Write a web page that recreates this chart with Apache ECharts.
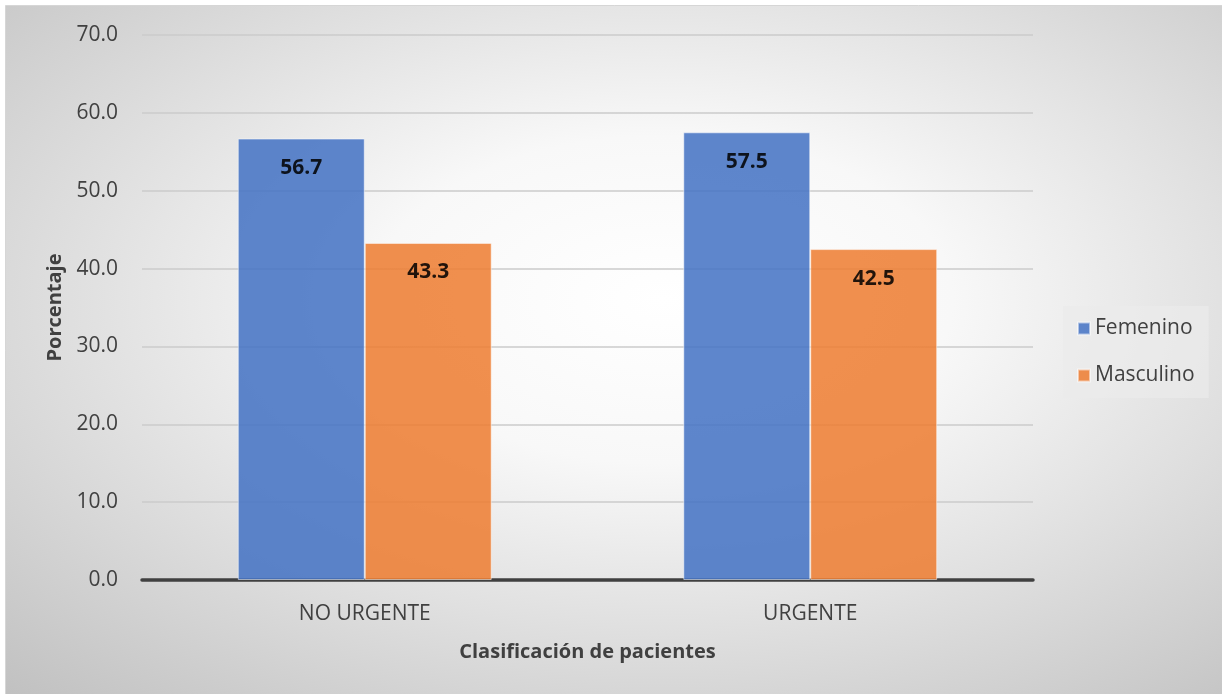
<!DOCTYPE html>
<html>
<head>
<meta charset="utf-8">
<script src="https://cdn.jsdelivr.net/npm/echarts@6/dist/echarts.min.js"></script>
<style>
  html, body { margin: 0; padding: 0; background: #ffffff; }
  #chart { width: 1222px; height: 694px; }
</style>
</head>
<body>
<div id="chart"></div>
<script>
// Patient classification by sex (percentages)
const categories = ['NO URGENTE', 'URGENTE'];
const femenino = [56.7, 57.5];
const masculino = [43.3, 42.5];
const yTicks = { min: 0, max: 70, interval: 10 };

const FONT = '"Open Sans", Lato, sans-serif';
const BG_W = 1240, BG_H = 700;

const chart = echarts.init(document.getElementById('chart'), null, { renderer: 'canvas' });

chart.setOption({
  animation: false,
  graphic: [
    {
      // elliptical light-to-grey backdrop: a square stretched horizontally
      type: 'rect',
      z: -10,
      silent: true,
      x: 5.5, y: 5.5,
      scaleX: BG_W / BG_H,
      shape: { x: 0, y: 0, width: BG_H, height: BG_H },
      style: {
        fill: {
          type: 'radial', x: 0.53, y: 0.42, r: 0.78,
          colorStops: [
            { offset: 0, color: '#ffffff' },
            { offset: 0.3, color: '#f8f8f8' },
            { offset: 1, color: '#c0c0c0' }
          ]
        }
      }
    },
    {
      type: 'rect',
      z: -9,
      silent: true,
      shape: { x: 5.5, y: 5.5, width: BG_W, height: BG_H },
      style: { fill: 'none', stroke: '#d6d6d6', lineWidth: 1 }
    }
  ],
  grid: { left: 142, right: 189, top: 35, bottom: 114, containLabel: false },
  legend: {
    orient: 'vertical',
    left: 1063,
    top: 306,
    itemWidth: 12,
    itemHeight: 12,
    itemGap: 26,
    icon: 'rect',
    padding: [12, 14, 12, 14],
    backgroundColor: 'rgba(235,235,235,0.7)',
    textStyle: { fontFamily: FONT, fontSize: 21, color: '#404040', padding: [0, 0, 0, 0] },
    data: ['Femenino', 'Masculino']
  },
  xAxis: {
    type: 'category',
    data: categories,
    name: 'Clasificación de pacientes',
    nameLocation: 'middle',
    nameGap: 62,
    nameTextStyle: { fontFamily: FONT, fontSize: 20, fontWeight: 'bold', color: '#404040' },
    axisLine: { lineStyle: { color: '#404040', width: 3.5 } },
    axisTick: { show: false },
    axisLabel: { fontFamily: FONT, fontSize: 21, color: '#404040', margin: 24 }
  },
  yAxis: {
    type: 'value',
    min: yTicks.min,
    max: yTicks.max,
    interval: yTicks.interval,
    name: 'Porcentaje',
    nameLocation: 'middle',
    nameRotate: 90,
    nameGap: 75,
    nameTextStyle: { fontFamily: FONT, fontSize: 20, fontWeight: 'bold', color: '#404040' },
    axisLine: { show: false },
    axisTick: { show: false },
    axisLabel: {
      fontFamily: FONT, fontSize: 21, color: '#404040', margin: 24,
      padding: [5, 0, 0, 0],
      formatter: v => v.toFixed(1)
    },
    splitLine: { lineStyle: { color: '#cbcbcb', width: 1.5 } }
  },
  series: [
    {
      name: 'Femenino',
      type: 'bar',
      data: femenino,
      barGap: '0%',
      barCategoryGap: '43%',
      itemStyle: { color: '#4472C4', opacity: 0.86, borderColor: 'rgba(255,255,255,0.6)', borderWidth: 1 },
      label: {
        show: true, position: 'insideTop', distance: 19,
        fontFamily: FONT, fontSize: 21, fontWeight: 'bold', color: '#000000',
        formatter: p => p.value.toFixed(1)
      }
    },
    {
      name: 'Masculino',
      type: 'bar',
      data: masculino,
      itemStyle: { color: '#ED7D31', opacity: 0.86, borderColor: 'rgba(255,255,255,0.6)', borderWidth: 1 },
      label: {
        show: true, position: 'insideTop', distance: 19,
        fontFamily: FONT, fontSize: 21, fontWeight: 'bold', color: '#000000',
        formatter: p => p.value.toFixed(1)
      }
    }
  ]
});
</script>
</body>
</html>
